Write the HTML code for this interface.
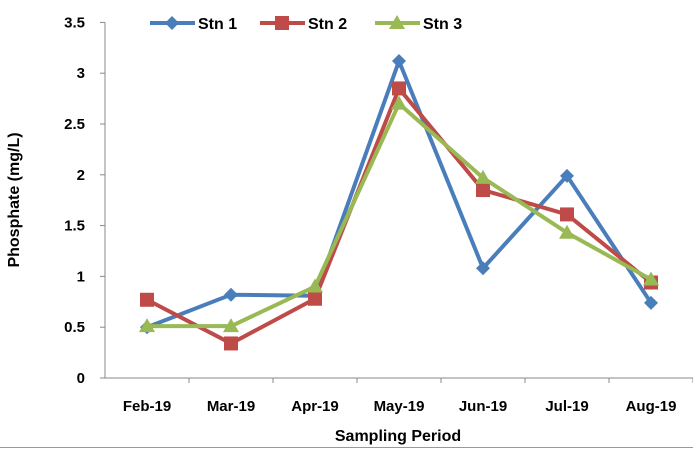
<!DOCTYPE html>
<html><head><meta charset="utf-8"><style>
body{margin:0;background:#fff;}
svg{display:block;font-family:"Liberation Sans",sans-serif;font-weight:bold;}
</style></head><body>
<svg id="chart" width="693" height="449" viewBox="0 0 693 449" xmlns="http://www.w3.org/2000/svg">
<g id="axes"></g><g id="series"></g><g id="legend"></g>
<line x1="0" y1="447.5" x2="693" y2="447.5" stroke="#999" stroke-width="1"/>
</svg>
<script>
const categories = ["Feb-19","Mar-19","Apr-19","May-19","Jun-19","Jul-19","Aug-19"];
const stn1 = [0.50,0.82,0.81,3.12,1.08,1.99,0.74];
const stn2 = [0.77,0.34,0.78,2.85,1.85,1.61,0.94];
const stn3 = [0.51,0.51,0.90,2.70,1.97,1.43,0.97];
const yTicks = [0,0.5,1,1.5,2,2.5,3,3.5];
const yTickLabels = ["0","0.5","1","1.5","2","2.5","3","3.5"];
const seriesNames = ["Stn 1","Stn 2","Stn 3"];

const NS="http://www.w3.org/2000/svg";
const X0=105, CW=84, Y0=378, PPU=101.6;
const xs=i=>X0+CW*(i+0.5);
const ys=v=>Y0-v*PPU;
function mk(tag,attrs,parent){const e=document.createElementNS(NS,tag);for(const k in attrs)e.setAttribute(k,attrs[k]);parent.appendChild(e);return e;}
const axes=document.getElementById('axes');
let e=mk('line',{x1:X0,y1:ys(3.5),x2:X0,y2:Y0,stroke:'#888','stroke-width':1},axes);


e=mk('line',{x1:X0,y1:Y0,x2:693,y2:Y0,stroke:'#888','stroke-width':1},axes);


yTicks.forEach((v,i)=>{
  mk('line',{x1:X0-5,y1:ys(v),x2:X0,y2:ys(v),stroke:'#888'},axes);
  const t=mk('text',{x:85,y:ys(v)+5,'text-anchor':'end','font-size':15,fill:'#000'},axes);
  t.textContent=yTickLabels[i];
  
  
});
categories.forEach((c,i)=>{
  mk('line',{x1:X0+CW*(i+1),y1:Y0,x2:X0+CW*(i+1),y2:Y0+5,stroke:'#888'},axes);
  const t=mk('text',{x:xs(i),y:411,'text-anchor':'middle','font-size':15,fill:'#000'},axes);
  t.textContent=c;
  
  
});
let t=mk('text',{x:398,y:441,'text-anchor':'middle','font-size':16,fill:'#000'},axes);
t.textContent='Sampling Period';


t=mk('text',{x:0,y:0,'text-anchor':'middle','font-size':16,fill:'#000',transform:'translate(19,200) rotate(-90)'},axes);
t.textContent='Phosphate (mg/L)';



function marker(kind,x,y,color,g){
  if(kind===0) return mk('polygon',{points:`${x},${y-7} ${x+7},${y} ${x},${y+7} ${x-7},${y}`,fill:color},g);
  if(kind===1) return mk('rect',{x:x-7,y:y-7,width:14,height:14,fill:color},g);
  return mk('polygon',{points:`${x},${y-8} ${x+8},${y+6} ${x-8},${y+6}`,fill:color},g);
}
const colors=['#4a7ebb','#be4b48','#98b954'];
const sg=document.getElementById('series');
[stn1,stn2,stn3].forEach((data,k)=>{
  const g=mk('g',{},sg);
  
  
  const p=mk('polyline',{points:data.map((v,i)=>xs(i)+','+ys(v)).join(' '),fill:'none',stroke:colors[k],'stroke-width':4,'stroke-linejoin':'round'},g);
  
  
  data.forEach((v,i)=>{
    const m=marker(k,xs(i),ys(v),colors[k],g);
    
    
  });
});
const lg=document.getElementById('legend');
const lx=[150,260,375];
seriesNames.forEach((n,k)=>{
  const g=mk('g',{},lg);
  
  
  mk('line',{x1:lx[k],y1:23,x2:lx[k]+45,y2:23,stroke:colors[k],'stroke-width':4},g);
  marker(k,lx[k]+22,23,colors[k],g);
  const tt=mk('text',{x:lx[k]+48,y:29,'font-size':16,fill:'#000'},g);
  tt.textContent=n;
});
</script>
</body></html>
